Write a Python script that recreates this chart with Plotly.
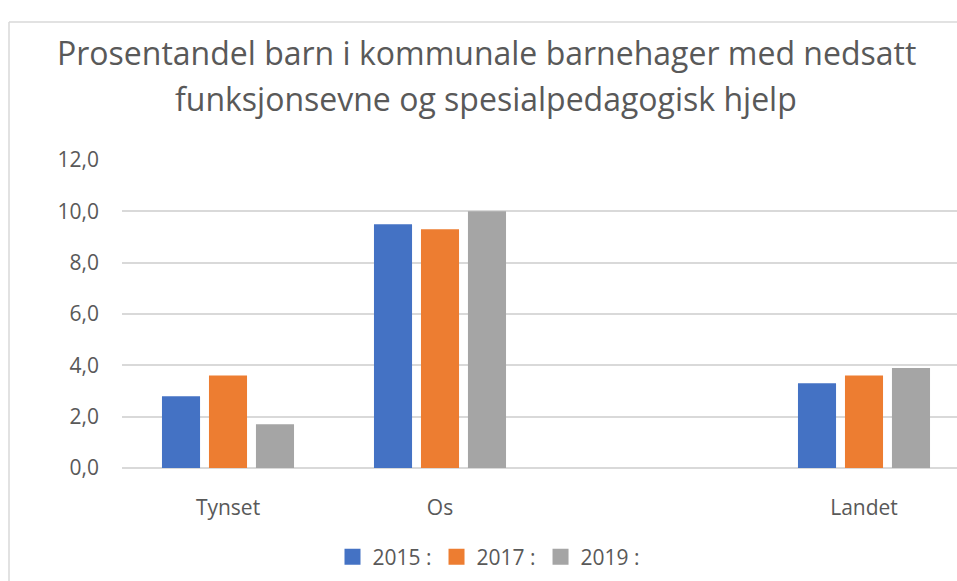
import plotly.graph_objects as go

categories = ["Tynset", "Os", "", "Landet"]
series_names = ["2015 :", "2017 :", "2019 :"]
values_2015 = [2.8, 9.5, None, 3.3]
values_2017 = [3.6, 9.3, None, 3.6]
values_2019 = [1.7, 10.0, None, 3.9]
colors = ["#4472C4", "#ED7D31", "#A5A5A5"]
y_ticks = [0, 2, 4, 6, 8, 10, 12]
y_ticktext = ["0,0", "2,0", "4,0", "6,0", "8,0", "10,0", "12,0"]
title_lines = ["Prosentandel barn i kommunale barnehager med nedsatt",
               "funksjonsevne og spesialpedagogisk hjelp"]

W, H = 957, 581
L, T, B = 122, 160, 113
PW = W - L
PH = H - T - B
cat_px = 212.0

fig = go.Figure()
xs = list(range(len(categories)))
for name, vals, col in zip(series_names, [values_2015, values_2017, values_2019], colors):
    fig.add_trace(go.Bar(x=xs, y=vals, name=name, showlegend=False,
                         marker=dict(color=col, line=dict(width=0))))
# legend entries with larger square swatches
for name, col in zip(series_names, colors):
    fig.add_trace(go.Scatter(x=[None], y=[None], mode="markers", name=name,
                             marker=dict(symbol="square", size=17, color=col)))

txtcol = "#595959"
fig.update_layout(
    width=W, height=H,
    margin=dict(l=L, r=0, t=T, b=B, autoexpand=False),
    paper_bgcolor="white", plot_bgcolor="white",
    barmode="group", bargap=0.335, bargroupgap=0.19,
    font=dict(family="Open Sans", color=txtcol, size=21),
    showlegend=True,
    legend=dict(orientation="h", x=(489 - L) / PW, xanchor="center",
                y=(468 - 557) / PH, yanchor="middle",
                font=dict(size=21, color=txtcol), itemwidth=30, itemsizing="trace",
                tracegroupgap=0),
    xaxis=dict(range=[-0.5, -0.5 + PW / cat_px], tickvals=xs, ticktext=categories,
               showgrid=False, zeroline=False, showline=False, ticks="",
               tickfont=dict(size=21, color=txtcol), ticklabelstandoff=25,
               fixedrange=True),
    yaxis=dict(range=[0, 12], tickvals=y_ticks, ticktext=y_ticktext,
               showgrid=True, gridcolor="#D9D9D9", gridwidth=1.5,
               zeroline=True, zerolinecolor="#D9D9D9", zerolinewidth=1.5,
               showline=False, ticks="", tickfont=dict(size=21, color=txtcol),
               ticklabelstandoff=22, fixedrange=True),
)

for i, line in enumerate(title_lines):
    fig.add_annotation(text=line, xref="paper", yref="paper",
                       x=(486 - L) / PW, y=(H - B - [52, 98][i]) / PH,
                       xanchor="center", yanchor="middle", showarrow=False,
                       font=dict(family="Open Sans", size=32, color=txtcol))

# chart border
fig.add_shape(type="line", xref="paper", yref="paper",
              x0=(9 - L) / PW, x1=(9 - L) / PW, y0=(H - B - 22) / PH, y1=(H - B - 600) / PH,
              line=dict(color="#D9D9D9", width=1.5))
fig.add_shape(type="line", xref="paper", yref="paper",
              x0=(9 - L) / PW, x1=(1000 - L) / PW, y0=(H - B - 22) / PH, y1=(H - B - 22) / PH,
              line=dict(color="#D9D9D9", width=1.5))

fig.write_html("out.html", config={"displayModeBar": False},
               post_script="document.body.style.margin='0';document.body.style.overflow='hidden';")
